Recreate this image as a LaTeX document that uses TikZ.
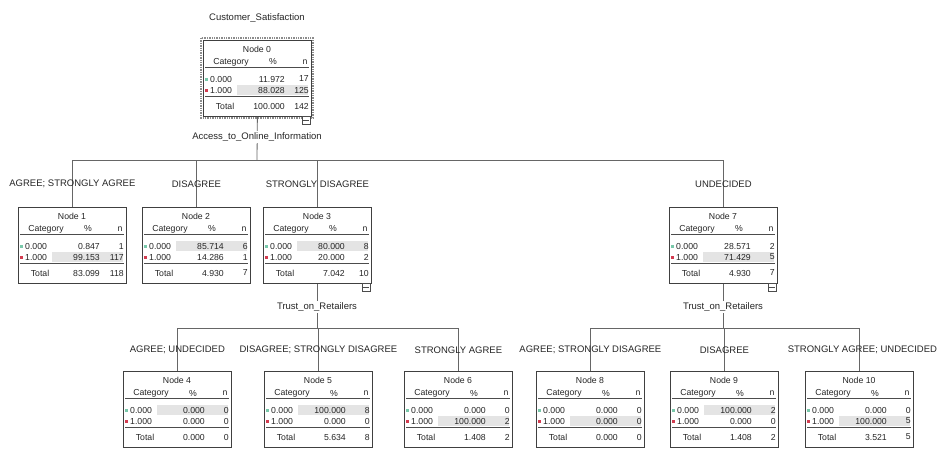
\documentclass[tikz,border=0pt]{standalone}
\usepackage{fontspec}
\setmainfont{Liberation Sans}
\usetikzlibrary{calc}
\definecolor{shadecol}{RGB}{228,228,228}
\definecolor{mkgreen}{RGB}{120,200,170}
\definecolor{mkred}{RGB}{210,60,80}
\tikzset{
  tbox/.style={draw=black!75, line width=0.8pt, minimum width=108pt, minimum height=76pt, inner sep=0pt},
  ttext/.style={inner sep=0pt, font=\fontsize{8.7}{9}\selectfont, text=black!85},
  lbl/.style={inner sep=0pt, font=\fontsize{9.5}{10}\selectfont, text=black!85},
  split/.style={inner sep=1.5pt, fill=white, font=\fontsize{9.5}{10}\selectfont, text=black!85},
  conn/.style={draw=black!60, line width=0.8pt},
  rule/.style={draw=black!70, line width=0.6pt},
  icon/.style={draw=black!70, fill=white, line width=0.6pt, minimum size=8pt, inner sep=0pt},
}
\newcommand\mkbox[5]{% name, L, T, k, shaded row (0/1)
  \fill[shadecol] ({#2+34},{#3+34+11*#5}) rectangle ({#2+105},{#3+44+11*#5});
  \node[tbox, anchor=north west] (#1) at (#2,#3) {};
  \node[ttext] (#1-t) at ({#2+54},{#3+9}) {Node #4};
  \node[ttext] (#1-hc) at ({#2+28},{#3+22}) {Category};
  \node[ttext] (#1-hp) at ({#2+70},{#3+22}) {\%};
  \node[ttext] (#1-hn) at ({#2+102},{#3+22}) {n};
  \draw[rule] ({#2+2},{#3+27.5}) -- ({#2+106},{#3+27.5});
  \draw[rule] ({#2+2},{#3+56}) -- ({#2+106},{#3+56});
  \fill[mkgreen] ({#2+2},{#3+37.5}) rectangle ({#2+5},{#3+40.5});
  \fill[mkred] ({#2+2},{#3+48.5}) rectangle ({#2+5},{#3+51.5});
}
\newcommand\mkrows[9]{% name, L, T, p0, n0, p1, n1, pt, nt
  \node[ttext, anchor=west] (#1-c0) at ({#2+7},{#3+39}) {0.000};
  \node[ttext, anchor=east] (#1-p0) at ({#2+82},{#3+39}) {#4};
  \node[ttext, anchor=east] (#1-n0) at ({#2+106},{#3+39}) {#5};
  \node[ttext, anchor=west] (#1-c1) at ({#2+7},{#3+50}) {1.000};
  \node[ttext, anchor=east] (#1-p1) at ({#2+82},{#3+50}) {#6};
  \node[ttext, anchor=east] (#1-n1) at ({#2+106},{#3+50}) {#7};
  \node[ttext] (#1-tl) at ({#2+22},{#3+66}) {Total};
  \node[ttext, anchor=east] (#1-pt) at ({#2+82},{#3+66}) {#8};
  \node[ttext, anchor=east] (#1-nt) at ({#2+106},{#3+66}) {#9};
}
\newcommand\mkicon[1]{%
  \node[icon] (#1-ic) at ($(#1.south east)+(-6,3)$) {};
  \draw[rule] ($(#1-ic.west)+(1.5,0)$) -- ($(#1-ic.east)+(-1.5,0)$);
}
\begin{document}
\begin{tikzpicture}[x=1pt,y=-1pt]
\useasboundingbox (0,0) rectangle (937,448);
\fill[white] (0,0) rectangle (937,448);

% ---------- connectors ----------
\coordinate (b0) at (257,160);
\coordinate (b3) at (317,328);
\coordinate (b7) at (723,328);

% ---------- root ----------
\node[lbl] (target) at (257,18) {Customer\_Satisfaction};
\mkbox{n0}{203}{40}{0}{1}
\mkrows{n0}{203}{40}{11.972}{17}{88.028}{125}{100.000}{142}
\draw[black!45, densely dotted, line width=1.4pt] (201,38) rectangle (313,118);

% ---------- level 1 ----------
\mkbox{n1}{18}{207}{1}{1}
\mkrows{n1}{18}{207}{0.847}{1}{99.153}{117}{83.099}{118}
\mkbox{n2}{142}{207}{2}{0}
\mkrows{n2}{142}{207}{85.714}{6}{14.286}{1}{4.930}{7}
\mkbox{n3}{263}{207}{3}{0}
\mkrows{n3}{263}{207}{80.000}{8}{20.000}{2}{7.042}{10}
\mkbox{n7}{669}{207}{7}{1}
\mkrows{n7}{669}{207}{28.571}{2}{71.429}{5}{4.930}{7}

% ---------- level 2 ----------
\mkbox{n4}{123}{371}{4}{0}
\mkrows{n4}{123}{371}{0.000}{0}{0.000}{0}{0.000}{0}
\mkbox{n5}{264}{371}{5}{0}
\mkrows{n5}{264}{371}{100.000}{8}{0.000}{0}{5.634}{8}
\mkbox{n6}{404}{371}{6}{1}
\mkrows{n6}{404}{371}{0.000}{0}{100.000}{2}{1.408}{2}
\mkbox{n8}{536}{371}{8}{1}
\mkrows{n8}{536}{371}{0.000}{0}{0.000}{0}{0.000}{0}
\mkbox{n9}{670}{371}{9}{0}
\mkrows{n9}{670}{371}{100.000}{2}{0.000}{0}{1.408}{2}
\mkbox{n10}{805}{371}{10}{1}
\mkrows{n10}{805}{371}{0.000}{0}{100.000}{5}{3.521}{5}

% ---------- tree lines ----------
\draw[conn] (n0.south) -- (b0);
\draw[conn] (n1.north) -- (n1.north |- b0) -- (n7.north |- b0) -- (n7.north);
\draw[conn] (n2.north) -- (n2.north |- b0);
\draw[conn] (n3.north) -- (n3.north |- b0);
\node[split] (s0) at (257,137) {Access\_to\_Online\_Information};

\draw[conn] (n3.south) -- (n3.south |- b3);
\draw[conn] (n4.north) -- (n4.north |- b3) -- (n6.north |- b3) -- (n6.north);
\draw[conn] (n5.north) -- (n5.north |- b3);
\node[split] (s3) at (317,307) {Trust\_on\_Retailers};

\draw[conn] (n7.south) -- (n7.south |- b7);
\draw[conn] (n8.north) -- (n8.north |- b7) -- (n10.north |- b7) -- (n10.north);
\draw[conn] (n9.north) -- (n9.north |- b7);
\node[split] (s7) at (723,307) {Trust\_on\_Retailers};

% ---------- branch labels ----------
\node[lbl] (l1) at (n1.north |- 0,184) {AGREE; STRONGLY AGREE};
\node[lbl] (l2) at (n2.north |- 0,184) {DISAGREE};
\node[lbl] (l3) at (n3.north |- 0,184) {STRONGLY DISAGREE};
\node[lbl] (l7) at (n7.north |- 0,184) {UNDECIDED};
\node[lbl] (l4) at (n4.north |- 0,350) {AGREE; UNDECIDED};
\node[lbl] (l5) at (n5.north |- 0,350) {DISAGREE; STRONGLY DISAGREE};
\node[lbl] (l6) at (n6.north |- 0,350) {STRONGLY AGREE};
\node[lbl] (l8) at (n8.north |- 0,350) {AGREE; STRONGLY DISAGREE};
\node[lbl] (l9) at (n9.north |- 0,350) {DISAGREE};
\node[lbl] (l10) at ($(n10.north |- 0,350)+(3,0)$) {STRONGLY AGREE; UNDECIDED};

% ---------- collapse icons ----------
\mkicon{n0}
\mkicon{n3}
\mkicon{n7}
\end{tikzpicture}
\end{document}
